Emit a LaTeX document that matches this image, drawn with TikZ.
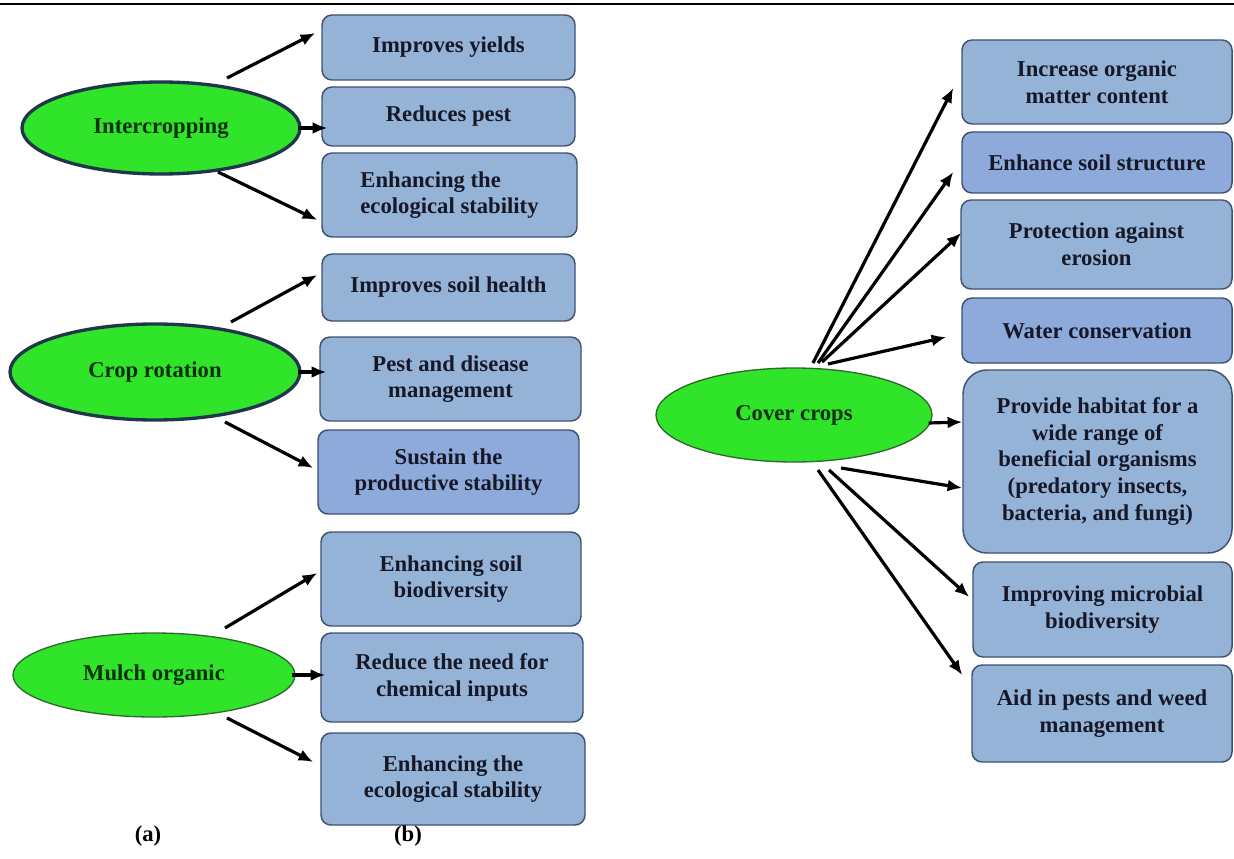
\documentclass[tikz,border=0pt]{standalone}
\usepackage{fontspec}
\setmainfont{Liberation Serif}
\usetikzlibrary{arrows.meta,shapes.geometric}

\definecolor{leafgreen}{RGB}{48,228,42}
\definecolor{rimnavy}{RGB}{30,55,75}
\definecolor{rimgreen}{RGB}{45,105,45}
\definecolor{boxblue}{RGB}{149,179,215}
\definecolor{boxblueb}{RGB}{141,170,219}
\definecolor{boxrim}{RGB}{62,82,112}
\definecolor{inkgreen}{RGB}{12,48,12}
\definecolor{inknavy}{RGB}{22,24,40}

\tikzset{
    practice/.style 2 args={ellipse, fill=leafgreen, text=inkgreen, inner sep=0pt,
        font=\fontsize{17}{20}\selectfont\bfseries,
        minimum width=#1*0.75pt, minimum height=#2*0.75pt},
    benefit/.style 2 args={rectangle, rounded corners=7.5pt, draw=boxrim, line width=1.1pt,
        fill=boxblue, text=inknavy, align=center, inner sep=0pt,
        font=\fontsize{17}{20}\selectfont\bfseries,
        minimum width=#1*0.75pt, minimum height=#2*0.75pt},
    arr/.style={-{Latex[length=11pt,width=9pt]}, line width=2.4pt}
}

\begin{document}
\begin{tikzpicture}[x=0.75pt,y=-0.75pt]
            \useasboundingbox (0,0) rectangle (1234,859);
            \draw[line width=1.8pt] (0,4)--(1234,4);

            \node[practice={278}{92}, draw=rimnavy, line width=2.5pt] (IC) at (161,128) {Intercropping};
            \node[practice={290}{96}, draw=rimnavy, line width=2.5pt] (CR) at (155,372) {Crop rotation};
            \node[practice={282}{84}, draw=rimgreen, line width=1pt] (MO) at (154,675) {Mulch organic};
            \node[practice={276}{94}, draw=rimgreen, line width=1pt] (CC) at (794,415) {Cover crops};

            \node[benefit={253}{65}] (B1) at (448.5,47.5) {Improves yields};
            \node[benefit={253}{59}] (B2) at (448.5,116.5) {Reduces pest};
            \node[benefit={255}{84}, align=left] (B3) at (449.5,195) {Enhancing the\\ecological stability};
            \node[benefit={253}{67}] (B4) at (448.5,287.5) {Improves soil health};
            \node[benefit={261}{84}] (B5) at (450.5,379) {Pest and disease\\management};
            \node[benefit={261}{84}, fill=boxblueb] (B6) at (448.5,472) {Sustain the\\productive stability};
            \node[benefit={260}{94}] (B7) at (451,579) {Enhancing soil\\biodiversity};
            \node[benefit={262}{89}] (B8) at (452,677.5) {Reduce the need for\\chemical inputs};
            \node[benefit={264}{92}] (B9) at (453,779) {Enhancing the\\ecological stability};

            \node[benefit={270}{84}] (R1) at (1097,82) {Increase organic\\matter content};
            \node[benefit={270}{61}, fill=boxblueb] (R2) at (1097,162.5) {Enhance soil structure};
            \node[benefit={271}{89}] (R3) at (1096.5,244.5) {Protection against\\erosion};
            \node[benefit={270}{65}, fill=boxblueb] (R4) at (1097,330.5) {Water conservation};
            \node[benefit={269}{183}, rounded corners=18pt] (R5) at (1097.5,461.5)
                {Provide habitat for a\\wide range of\\beneficial organisms\\(predatory insects,\\bacteria, and fungi)};
            \node[benefit={259}{95}] (R6) at (1102.5,609.5) {Improving microbial\\biodiversity};
            \node[benefit={260}{97}] (R7) at (1102,713.5) {Aid in pests and weed\\management};

            \node[font=\fontsize{17}{20}\selectfont\bfseries] (LA) at (148,836) {(a)};
            \node[font=\fontsize{17}{20}\selectfont\bfseries] (LB) at (408,836) {(b)};

            \draw[arr] ([shift={(66,-50)}]IC.center)--([shift={(-6,-14.5)}]B1.west);
            \draw[arr] ([shift={(-4,0)}]IC.east)--([shift={(6,11.5)}]B2.west);
            \draw[arr] ([shift={(57,44)}]IC.center)--([shift={(-4,25)}]B3.west);

            \draw[arr] ([shift={(76,-50)}]CR.center)--([shift={(-4,-12.5)}]B4.west);
            \draw[arr] ([shift={(-4,0)}]CR.east)--([shift={(7,-7)}]B5.west);
            \draw[arr] ([shift={(70,50)}]CR.center)--([shift={(-4,-4)}]B6.west);

            \draw[arr] ([shift={(71,-47)}]MO.center)--([shift={(-3,-6)}]B7.west);
            \draw[arr] ([shift={(-4,0)}]MO.east)--([shift={(5,-2.5)}]B8.west);
            \draw[arr] ([shift={(73,43)}]MO.center)--([shift={(-7,-17)}]B9.west);

            \draw[arr] ([shift={(19,-52)}]CC.center)--([shift={(-8,6)}]R1.west);
            \draw[arr] ([shift={(24,-52)}]CC.center)--([shift={(-8,9.5)}]R2.west);
            \draw[arr] ([shift={(28,-53)}]CC.center)--([shift={(1,-11.5)}]R3.west);
            \draw[arr] ([shift={(34,-51)}]CC.center)--([shift={(-15,6.5)}]R4.west);
            \draw[arr] ([shift={(-4,8)}]CC.east)--([shift={(0,-39.5)}]R5.west);
            \draw[arr] ([shift={(47,53)}]CC.center)--([shift={(0,26.5)}]R5.west);
            \draw[arr] ([shift={(35,55)}]CC.center)--([shift={(-3,-12.5)}]R6.west);
            \draw[arr] ([shift={(24,55)}]CC.center)--([shift={(-9,-38.5)}]R7.west);
\end{tikzpicture}
\end{document}
